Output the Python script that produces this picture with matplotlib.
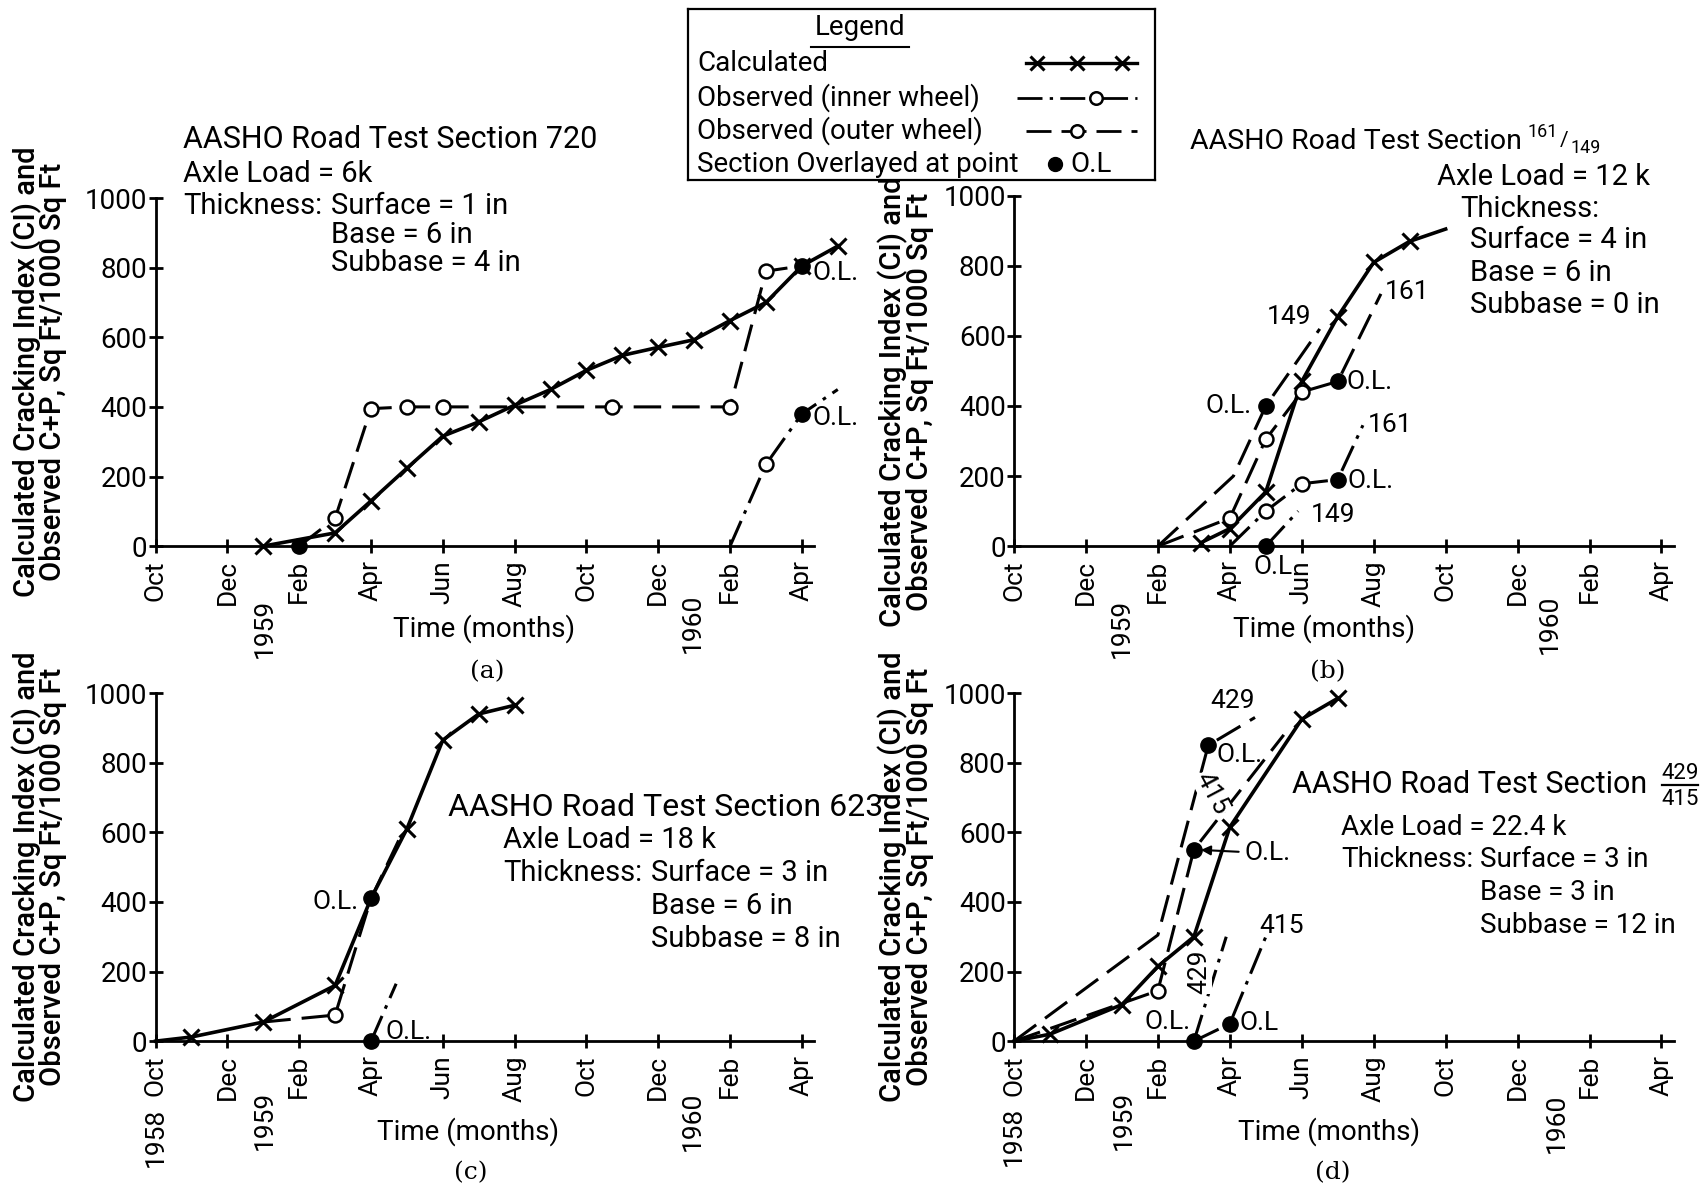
import numpy as np
import matplotlib
matplotlib.use("Agg")
import matplotlib.pyplot as plt

plt.rcParams['font.family'] = ['Roboto', 'DejaVu Sans']

# Time axis: months elapsed since October 1958
month_ticks = [0, 2, 4, 6, 8, 10, 12, 14, 16, 18]
month_labels = ["Oct", "Dec", "Feb", "Apr", "Jun", "Aug", "Oct", "Dec", "Feb", "Apr"]
ci_ticks = [0, 200, 400, 600, 800, 1000]
ci_labels = ["0", "200", "400", "600", "800", "1000"]

# (a) Section 720
a_calc_t = [3, 5, 6, 7, 8, 9, 10, 11, 12, 13, 14, 15, 16, 17, 18, 19]
a_calc_v = [0, 38, 130, 224, 316, 357, 405, 450, 505, 548, 571, 593, 648, 700, 805, 862]
a_outer_t = [4, 5, 6, 7, 8, 12.7, 16, 17, 18]
a_outer_v = [0, 80, 395, 400, 400, 400, 400, 790, 805]
a_inner_t = [16, 17, 18, 19]
a_inner_v = [0, 235, 380, 450]

# (b) Sections 161 / 149
b_calc_t = [5.2, 6, 7, 8, 9, 10, 11, 12]
b_calc_v = [10, 50, 155, 470, 655, 810, 870, 905]
b_out149_t = [4, 6.1, 7, 8.5]
b_out149_v = [0, 200, 400, 620]
b_out161_t = [4, 6, 7, 8, 9, 10.2]
b_out161_v = [0, 80, 305, 440, 470, 720]
b_in161_t = [6, 7, 8, 9, 9.7]
b_in161_v = [0, 100, 178, 190, 345]
b_in149_t = [7, 7.9]
b_in149_v = [0, 100]

# (c) Section 623
c_calc_t = [0, 1, 3, 5, 6, 7, 8, 9, 10]
c_calc_v = [0, 12, 55, 160, 410, 610, 865, 940, 965]
c_outer_t = [3, 5, 6, 6.9]
c_outer_v = [55, 75, 410, 605]
c_inner_t = [6, 6.7]
c_inner_v = [0, 165]

# (d) Sections 429 / 415
d_calc_t = [0, 1, 3, 4, 5, 6, 8, 9]
d_calc_v = [0, 20, 105, 215, 300, 615, 925, 985]
d_out429_t = [0, 4, 5.4, 6.7]
d_out429_v = [0, 305, 850, 930]
d_out415_t = [0, 4, 5, 7.5]
d_out415_v = [0, 145, 550, 880]
d_in429_t = [5, 5.9]
d_in429_v = [0, 300]
d_in415_t = [5, 6, 7]
d_in415_v = [0, 50, 300]

OUTER_LS = (0, (9, 3.6))
INNER_LS = (0, (9, 2.6, 1.2, 2.6))
TXT = 21
LBL = 19

fig = plt.figure(figsize=(17.06, 11.88), dpi=100)


def setup(ax, years):
    ax.set_xlim(0, 19.5)
    ax.set_ylim(0, 1000)
    ax.patch.set_alpha(0)
    for s in ['top', 'right']:
        ax.spines[s].set_visible(False)
    ax.spines['bottom'].set_bounds(0, 18.35)
    ax.spines['left'].set_bounds(0, 1000)
    for s in ['bottom', 'left']:
        ax.spines[s].set_linewidth(2)
    ax.set_xticks(month_ticks)
    ax.set_xticklabels(month_labels, rotation=90, fontsize=19)
    ax.set_yticks(ci_ticks)
    ax.set_yticklabels(ci_labels, fontsize=20)
    ax.tick_params(axis='both', direction='inout', length=10, width=2)
    ax.tick_params(axis='x', pad=5)
    ax.tick_params(axis='y', pad=1)
    for yr, m, off in years:
        ax.annotate(yr, xy=(m, 0), xycoords=('data', 'axes fraction'),
                    xytext=(0, -off), textcoords='offset points', rotation=90,
                    ha='center', va='top', fontsize=19, annotation_clip=False)


def calc(ax, t, v, idx):
    ax.plot(t, v, '-', color='k', lw=2.6, zorder=4, clip_on=False)
    ax.plot(np.take(t, idx), np.take(v, idx), 'x', color='k', ms=11, mew=2.2,
            ls='none', zorder=5, clip_on=False)


def observed(ax, t, v, ls, circles=(), ol=()):
    ax.plot(t, v, color='k', lw=2.2, ls=ls, zorder=3, clip_on=False)
    if circles:
        ax.plot(np.take(t, circles), np.take(v, circles), 'o', ms=10, mfc='white',
                mec='k', mew=1.8, ls='none', zorder=6, clip_on=False)
    if ol:
        ax.plot(np.take(t, ol), np.take(v, ol), 'o', ms=11, color='k',
                ls='none', zorder=7, clip_on=False)


def txt(ax, x, y, s, size=TXT, **kw):
    ax.text(x, y, s, fontsize=size, va='center', **kw)


# ---------------- (a) ----------------
ax = fig.add_axes([0.0912, 0.5403, 0.4104, 0.2930])
setup(ax, [("1959", 3.05, 38), ("1960", 14.95, 34)])
calc(ax, a_calc_t, a_calc_v, list(range(16)))
observed(ax, a_outer_t, a_outer_v, OUTER_LS, circles=[1, 2, 3, 4, 5, 6, 7], ol=[0, 8])
observed(ax, a_inner_t, a_inner_v, INNER_LS, circles=[1], ol=[2])
txt(ax, 0.76, 1167, "AASHO Road Test Section 720", 22)
txt(ax, 0.76, 1068, "Axle Load = 6k")
txt(ax, 0.76, 977, "Thickness:")
txt(ax, 4.88, 977, "Surface = 1 in")
txt(ax, 4.88, 895, "Base = 6 in")
txt(ax, 4.88, 813, "Subbase = 4 in")
txt(ax, 18.3, 785, "O.L.", LBL)
txt(ax, 18.3, 368, "O.L.", LBL)

# ---------------- (b) ----------------
ax = fig.add_axes([0.5944, 0.5403, 0.4111, 0.2949])
setup(ax, [("1959", 3.0, 38), ("1960", 14.9, 35)])
calc(ax, b_calc_t, b_calc_v, list(range(7)))
observed(ax, b_out149_t, b_out149_v, OUTER_LS, ol=[2])
observed(ax, b_out161_t, b_out161_v, OUTER_LS, circles=[1, 2, 3], ol=[4])
observed(ax, b_in161_t, b_in161_v, INNER_LS, circles=[1, 2], ol=[3])
observed(ax, b_in149_t, b_in149_v, INNER_LS, ol=[0])
txt(ax, 4.88, 1155, "AASHO Road Test Section", 20.5)
txt(ax, 15.12, 1182, "161", 13, ha='right')
txt(ax, 15.3, 1158, "/", 15, ha='center')
txt(ax, 15.47, 1135, "149", 13, ha='left')
txt(ax, 11.76, 1053, "Axle Load = 12 k")
txt(ax, 12.4, 963, "Thickness:")
txt(ax, 12.67, 873, "Surface = 4 in")
txt(ax, 12.67, 780, "Base = 6 in")
txt(ax, 12.67, 689, "Subbase = 0 in")
txt(ax, 7.66, 655, "149", LBL, ha='center')
txt(ax, 10.3, 725, "161", LBL)
txt(ax, 6.6, 400, "O.L.", LBL, ha='right')
txt(ax, 9.25, 468, "O.L.", LBL)
txt(ax, 9.85, 345, "161", LBL)
txt(ax, 9.27, 185, "O.L.", LBL)
txt(ax, 8.25, 90, "149", LBL)
txt(ax, 7.2, -60, "O.L", LBL, ha='center')

# ---------------- (c) ----------------
ax = fig.add_axes([0.0912, 0.1236, 0.4104, 0.2930])
setup(ax, [("1958", 0, 48), ("1959", 3.05, 36), ("1960", 14.95, 36)])
calc(ax, c_calc_t, c_calc_v, [1, 2, 3, 5, 6, 7, 8])
observed(ax, c_outer_t, c_outer_v, OUTER_LS, circles=[1], ol=[2])
observed(ax, c_inner_t, c_inner_v, INNER_LS, ol=[0])
txt(ax, 8.15, 672, "AASHO Road Test Section 623", 23)
txt(ax, 9.67, 578, "Axle Load = 18 k")
txt(ax, 9.67, 482, "Thickness:")
txt(ax, 13.8, 482, "Surface = 3 in")
txt(ax, 13.8, 388, "Base = 6 in")
txt(ax, 13.8, 294, "Subbase = 8 in")
txt(ax, 5.65, 400, "O.L.", LBL, ha='right')
txt(ax, 6.4, 25, "O.L.", LBL)

# ---------------- (d) ----------------
ax = fig.add_axes([0.5944, 0.1236, 0.4111, 0.2930])
setup(ax, [("1958", 0, 47), ("1959", 3.05, 36), ("1960", 15.1, 38)])
calc(ax, d_calc_t, d_calc_v, list(range(1, 8)))
observed(ax, d_out429_t, d_out429_v, OUTER_LS, ol=[2])
observed(ax, d_out415_t, d_out415_v, OUTER_LS, circles=[1], ol=[2])
observed(ax, d_in429_t, d_in429_v, INNER_LS, ol=[0])
observed(ax, d_in415_t, d_in415_v, INNER_LS, ol=[1])
txt(ax, 7.73, 738, "AASHO Road Test Section", 22)
txt(ax, 18.52, 768, "429", 16, ha='center')
ax.plot([18.02, 19.02], [735, 735], color='k', lw=1.6, clip_on=False)
txt(ax, 18.52, 695, "415", 16, ha='center')
txt(ax, 9.09, 613, "Axle Load = 22.4 k", 20)
txt(ax, 9.09, 521, "Thickness:", 20)
txt(ax, 12.95, 521, "Surface = 3 in", 20)
txt(ax, 12.95, 426, "Base = 3 in", 20)
txt(ax, 12.95, 332, "Subbase = 12 in", 20)
txt(ax, 6.07, 978, "429", LBL, ha='center')
txt(ax, 5.62, 822, "O.L.", LBL)
ax.text(5.5, 712, "415", fontsize=LBL, rotation=-62, ha='center', va='center',
        bbox=dict(facecolor='white', edgecolor='none', pad=0.5), zorder=5)
ax.annotate("O.L.", xy=(5.08, 550), xytext=(6.4, 540), fontsize=LBL, va='center',
            ha='left', arrowprops=dict(arrowstyle='-|>', color='k', lw=1.5,
                                       shrinkA=2, shrinkB=3, mutation_scale=14))
ax.text(5.15, 200, "429", fontsize=LBL, rotation=90, ha='center', va='center',
        bbox=dict(facecolor='white', edgecolor='none', pad=0.3), zorder=5)
txt(ax, 4.9, 55, "O.L.", LBL, ha='right')
txt(ax, 6.28, 52, "O.L", LBL)
txt(ax, 7.45, 330, "415", LBL, ha='center')

# ---------------- axis titles ----------------
ylab = "Calculated Cracking Index (CI) and\nObserved C+P, Sq Ft/1000 Sq Ft"
for x, y in [(0.023, 0.687), (0.531, 0.662), (0.023, 0.262), (0.531, 0.262)]:
    fig.text(x, y, ylab, rotation=90, ha='center', va='center', fontsize=21,
             linespacing=0.9, fontweight='medium')
for x, y, tag, ty in [(0.2838, 0.4707, "(a)", 0.435), (0.776, 0.4707, "(b)", 0.435),
                      (0.2742, 0.0476, "(c)", 0.0128), (0.779, 0.0476, "(d)", 0.0128)]:
    fig.text(x, y, "Time (months)", ha='center', va='center', fontsize=20)
    fig.text(x + 0.002, ty, tag, ha='center', va='center', fontsize=18,
             family=['DejaVu Serif'])

# ---------------- legend box ----------------
lax = fig.add_axes([0.4031, 0.8489, 0.2742, 0.1438])
lax.set_xlim(0, 430)
lax.set_ylim(157, 0)
lax.set_xticks([])
lax.set_yticks([])
for s in lax.spines.values():
    s.set_linewidth(1.6)
lax.text(158, 17, "Legend", ha='center', va='center', fontsize=20)
lax.plot([113, 203], [35, 35], color='k', lw=1.5)
row_y = [50, 82, 112, 143]
row_text = ["Calculated", "Observed (inner wheel)", "Observed (outer wheel)",
            "Section Overlayed at point"]
for y, s in zip(row_y, row_text):
    lax.text(9, y, s, ha='left', va='center', fontsize=20)
key_x = np.array([311, 321, 358, 399, 413])
lax.plot(key_x, [row_y[0]] * 5, '-', color='k', lw=2.4)
lax.plot(key_x[1:4], [row_y[0]] * 3, 'x', color='k', ms=10, mew=2.2)
lax.plot([303, 413], [row_y[1]] * 2, color='k', lw=2.0, ls=INNER_LS)
lax.plot([375], [row_y[1]], 'o', ms=9, mfc='white', mec='k', mew=1.8)
lax.plot([311, 413], [row_y[2]] * 2, color='k', lw=2.0, ls=OUTER_LS)
lax.plot([358], [row_y[2]], 'o', ms=9, mfc='white', mec='k', mew=1.8)
lax.plot([338], [row_y[3]], 'o', ms=10, color='k')
lax.text(352, row_y[3], "O.L", ha='left', va='center', fontsize=20)

fig.savefig("out.png", dpi=100, facecolor='white')
